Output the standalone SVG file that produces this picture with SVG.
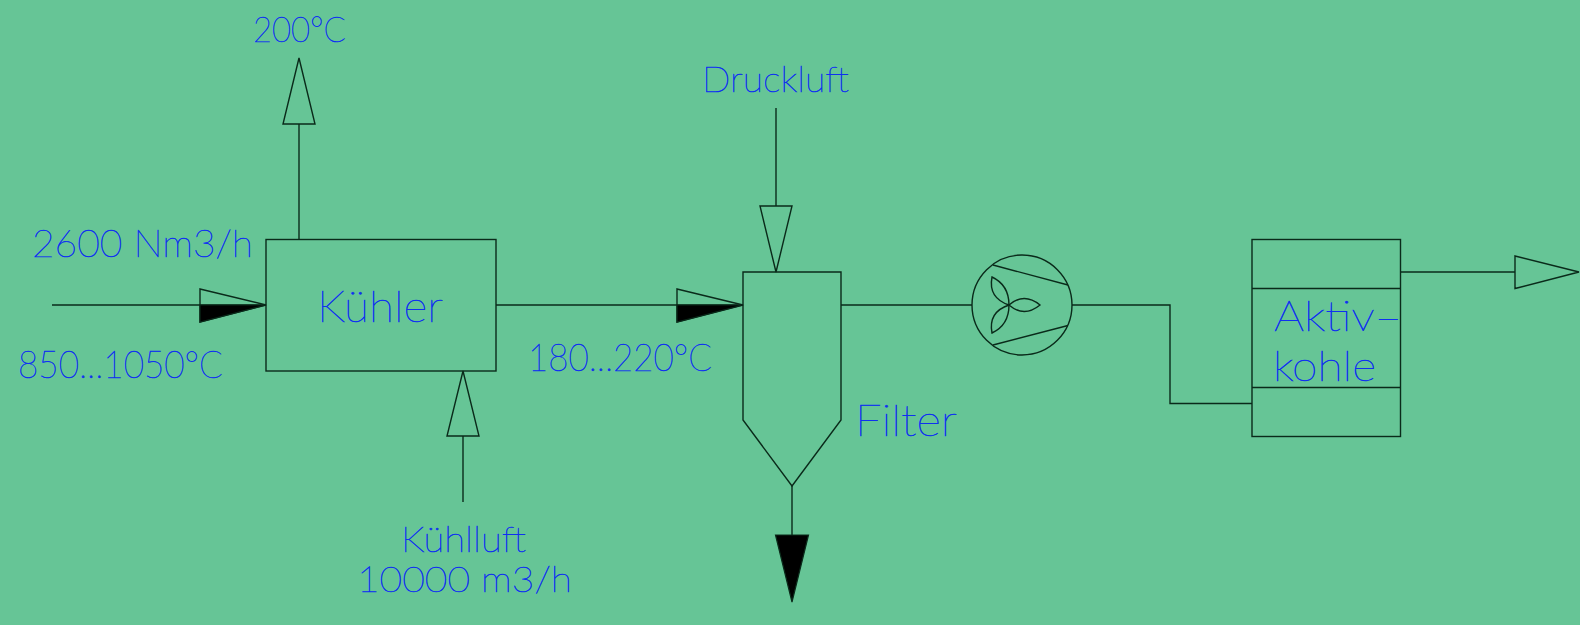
<svg xmlns="http://www.w3.org/2000/svg" width="1580" height="625" viewBox="0 0 1580 625">
<style>
.l{fill:none;stroke:#0a2a1a;stroke-width:1.4}
.f{fill:#000;stroke:#0a2a1a;stroke-width:1.2}
text{font-family:"Lato","Liberation Sans",sans-serif;font-weight:100;fill:#0f30f0;stroke:#0f30f0;stroke-width:.55;font-size:38px}
.b{font-size:44px}
.a{font-size:41px}
.s{font-size:36px}
</style>
<rect width="1580" height="625" fill="#66C596"/>
<g id="connectors">
<path class="l" d="M52 305H266"/><path class="l" d="M200 289L266 305L200 322Z"/><path class="f" d="M200 305H266L200 322Z"/>
<path class="l" d="M496 305H743"/><path class="l" d="M677 289L743 305L677 322Z"/><path class="f" d="M677 305H743L677 322Z"/>
<path class="l" d="M299 239V124"/><path class="l" d="M283 124H315L299 58Z"/>
<path class="l" d="M463 502V436"/><path class="l" d="M447 436H479L463 371Z"/>
<path class="l" d="M776 108V206"/><path class="l" d="M760 206H792L776 272Z"/>
<path class="l" d="M792 486V535"/><path class="f" d="M775.500 535H808.500L792 602Z"/>
<path class="l" d="M841 305H972"/>
<path class="l" d="M1072 305H1170V403.500H1252"/>
<path class="l" d="M1400 272H1515"/><path class="l" d="M1515 256L1579 272L1515 288.500Z"/>
</g>
<g id="kuehler"><rect class="l" x="266" y="239.500" width="230" height="131.500"/><text class="b" x="317" y="322" textLength="126" lengthAdjust="spacingAndGlyphs">Kühler</text></g>
<g id="filter"><path class="l" d="M743 272H841V420L792 486L743 420Z"/><text class="b" x="855" y="436" textLength="102" lengthAdjust="spacingAndGlyphs">Filter</text></g>
<g id="fan">
<circle class="l" cx="1022" cy="305" r="50"/>
<path class="l" d="M993 265L1068 285M993 345L1068 325.500"/>
<path class="l" d="M1009 305Q1024 292 1040 305Q1024 318 1009 305Z"/>
<path class="l" d="M1009 305Q1009 285 992 277Q988 298 1009 305Z"/>
<path class="l" d="M1009 305Q988 312 992 333Q1009 325 1009 305Z"/>
</g>
<g id="aktivkohle">
<rect class="l" x="1252" y="239.500" width="148.500" height="197"/>
<path class="l" d="M1252 288.500H1400.500M1252 387.500H1400.500"/>
<text class="a" x="1274" y="331" textLength="128" lengthAdjust="spacingAndGlyphs">Aktiv–</text>
<text class="a" x="1273" y="381" textLength="103" lengthAdjust="spacingAndGlyphs">kohle</text>
</g>
<g id="labels">
<text class="s" x="253" y="42" textLength="93" lengthAdjust="spacingAndGlyphs">200°C</text>
<text class="s" x="702" y="92" textLength="147" lengthAdjust="spacingAndGlyphs">Druckluft</text>
<text x="32" y="257" textLength="221" lengthAdjust="spacingAndGlyphs">2600 Nm3/h</text>
<text x="18" y="378" textLength="205" lengthAdjust="spacingAndGlyphs">850...1050°C</text>
<text x="528" y="371" textLength="184" lengthAdjust="spacingAndGlyphs">180...220°C</text>
<text class="s" x="401" y="552" textLength="125" lengthAdjust="spacingAndGlyphs">Kühlluft</text>
<text class="s" x="357" y="592" textLength="215" lengthAdjust="spacingAndGlyphs">10000 m3/h</text>
</g>
</svg>
